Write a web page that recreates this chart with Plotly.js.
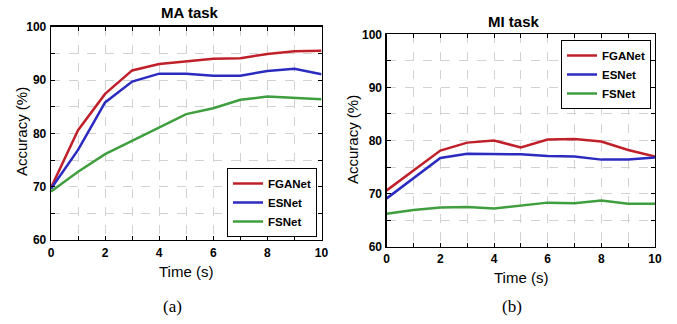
<!DOCTYPE html>
<html>
<head>
<meta charset="utf-8">
<script src="https://cdn.plot.ly/plotly-3.0.1.min.js"></script>
<style>html,body{margin:0;padding:0;background:#fff;}#chart{width:677px;height:324px;}</style>
</head>
<body>
<div id="chart"></div>
<script>
// Time axis (s)
const time = [0, 1, 2, 3, 4, 5, 6, 7, 8, 9, 10];
// (a) MA task accuracy (%)
const maFGANet = [69.8, 80.6, 87.4, 91.8, 93.0, 93.5, 94.0, 94.1, 94.9, 95.4, 95.5];
const maESNet  = [69.6, 76.9, 85.8, 89.7, 91.2, 91.2, 90.8, 90.8, 91.7, 92.1, 91.1];
const maFSNet  = [69.1, 72.8, 76.1, 78.6, 81.2, 83.6, 84.7, 86.3, 86.9, 86.7, 86.4];
// (b) MI task accuracy (%)
const miFGANet = [70.6, 74.4, 78.1, 79.6, 80.0, 78.7, 80.2, 80.3, 79.8, 78.2, 77.0];
const miESNet  = [69.1, 72.9, 76.7, 77.5, 77.4, 77.4, 77.1, 77.0, 76.4, 76.4, 76.8];
const miFSNet  = [66.2, 66.9, 67.4, 67.5, 67.2, 67.8, 68.3, 68.2, 68.7, 68.1, 68.1];
const seriesNames = ["FGANet", "ESNet", "FSNet"];
const colors = ["#c0202a", "#2b2bc0", "#3f9f3f"];
const xTicks = [0, 2, 4, 6, 8, 10];
const yTicks = [60, 70, 80, 90, 100];
const panelTitles = ["MA task", "MI task"];
const panelLabels = ["(a)", "(b)"];
const xTitle = "Time (s)";
const yTitle = "Accuracy (%)";

const maData = [maFGANet, maESNet, maFSNet];
const miData = [miFGANet, miESNet, miFSNet];
const traces = [];
maData.forEach((y, i) => traces.push({
  x: time, y: y, type: "scatter", mode: "lines", name: seriesNames[i],
  line: {color: colors[i], width: 2.5}, xaxis: "x", yaxis: "y", legend: "legend"
}));
miData.forEach((y, i) => traces.push({
  x: time, y: y, type: "scatter", mode: "lines", name: seriesNames[i],
  line: {color: colors[i], width: 2.5}, xaxis: "x2", yaxis: "y2", legend: "legend2"
}));

const SANS = "Liberation Sans, Arial, sans-serif";
const tickFont = {family: SANS, size: 12, color: "#000", weight: "bold"};
const gridCol = "#d2d2d2";
function xaxis(domain, anchor) {
  return {
    domain: domain, anchor: anchor, range: [0, 10], tickvals: xTicks, ticktext: xTicks.map(String),
    showline: true, linecolor: "#000", linewidth: 1.3, mirror: "ticks", ticks: "inside", ticklen: 4,
    tickcolor: "#000", showgrid: true, gridcolor: gridCol, griddash: "dash", gridwidth: 1,
    zeroline: false, tickfont: tickFont, automargin: false, ticklabelstandoff: 1,
    minor: {dtick: 1, tick0: 0, ticks: "inside", ticklen: 4, tickcolor: "#000", showgrid: true, gridcolor: gridCol, griddash: "dash", gridwidth: 1}
  };
}
function yaxis(domain, anchor) {
  return {
    domain: domain, anchor: anchor, range: [60, 100], tickvals: yTicks, ticktext: yTicks.map(String),
    showline: true, linecolor: "#000", linewidth: 1.3, mirror: "ticks", ticks: "inside", ticklen: 4,
    tickcolor: "#000", showgrid: true, gridcolor: gridCol, griddash: "dash", gridwidth: 1,
    zeroline: false, tickfont: tickFont, automargin: false, ticklabelstandoff: 1,
    minor: {dtick: 5, tick0: 60, ticks: "inside", ticklen: 4, tickcolor: "#000", showgrid: true, gridcolor: gridCol, griddash: "dash", gridwidth: 1}
  };
}
const legendFont = {family: SANS, size: 11.5, color: "#000", weight: "bold"};
const W = 677, H = 324;
const px = v => v / W, py = v => 1 - v / H;
function ann(text, x, y, font, angle) {
  return {text: text, xref: "paper", yref: "paper", x: px(x), y: py(y), xanchor: "center", yanchor: "middle",
          showarrow: false, font: font, textangle: angle || 0};
}
const titleFont = {family: SANS, size: 15, color: "#000", weight: "bold"};
const axTitleFont = {family: SANS, size: 15, color: "#000"};
const labelFont = {family: "Liberation Serif, Times New Roman, serif", size: 17, color: "#000"};
const layout = {
  width: W, height: H, margin: {l: 0, r: 0, t: 0, b: 0},
  paper_bgcolor: "#fff", plot_bgcolor: "#fff", showlegend: true,
  xaxis: xaxis([px(51), px(321.5)], "y"),
  yaxis: yaxis([py(240), py(26.7)], "x"),
  xaxis2: xaxis([px(386.7), px(655)], "y2"),
  yaxis2: yaxis([py(246.7), py(34.3)], "x2"),
  legend: {x: px(317), xanchor: "right", y: py(237), yanchor: "bottom", bgcolor: "#fff",
    bordercolor: "#000", borderwidth: 1, font: legendFont, itemwidth: 30, tracegroupgap: 0},
  legend2: {x: px(651), xanchor: "right", y: py(40), yanchor: "top", bgcolor: "#fff",
    bordercolor: "#000", borderwidth: 1, font: legendFont, itemwidth: 30, tracegroupgap: 0},
  annotations: [
    ann(panelTitles[0], 190, 13, titleFont),
    ann(panelTitles[1], 514, 22, titleFont),
    ann(xTitle, 186, 271, axTitleFont),
    ann(xTitle, 521, 277, axTitleFont),
    ann(yTitle, 21, 132, axTitleFont, -90),
    ann(yTitle, 352, 139, axTitleFont, -90),
    ann(panelLabels[0], 172, 306, labelFont),
    ann(panelLabels[1], 512, 306, labelFont)
  ]
};
Plotly.newPlot("chart", traces, layout, {displayModeBar: false, staticPlot: true});
</script>
</body>
</html>
